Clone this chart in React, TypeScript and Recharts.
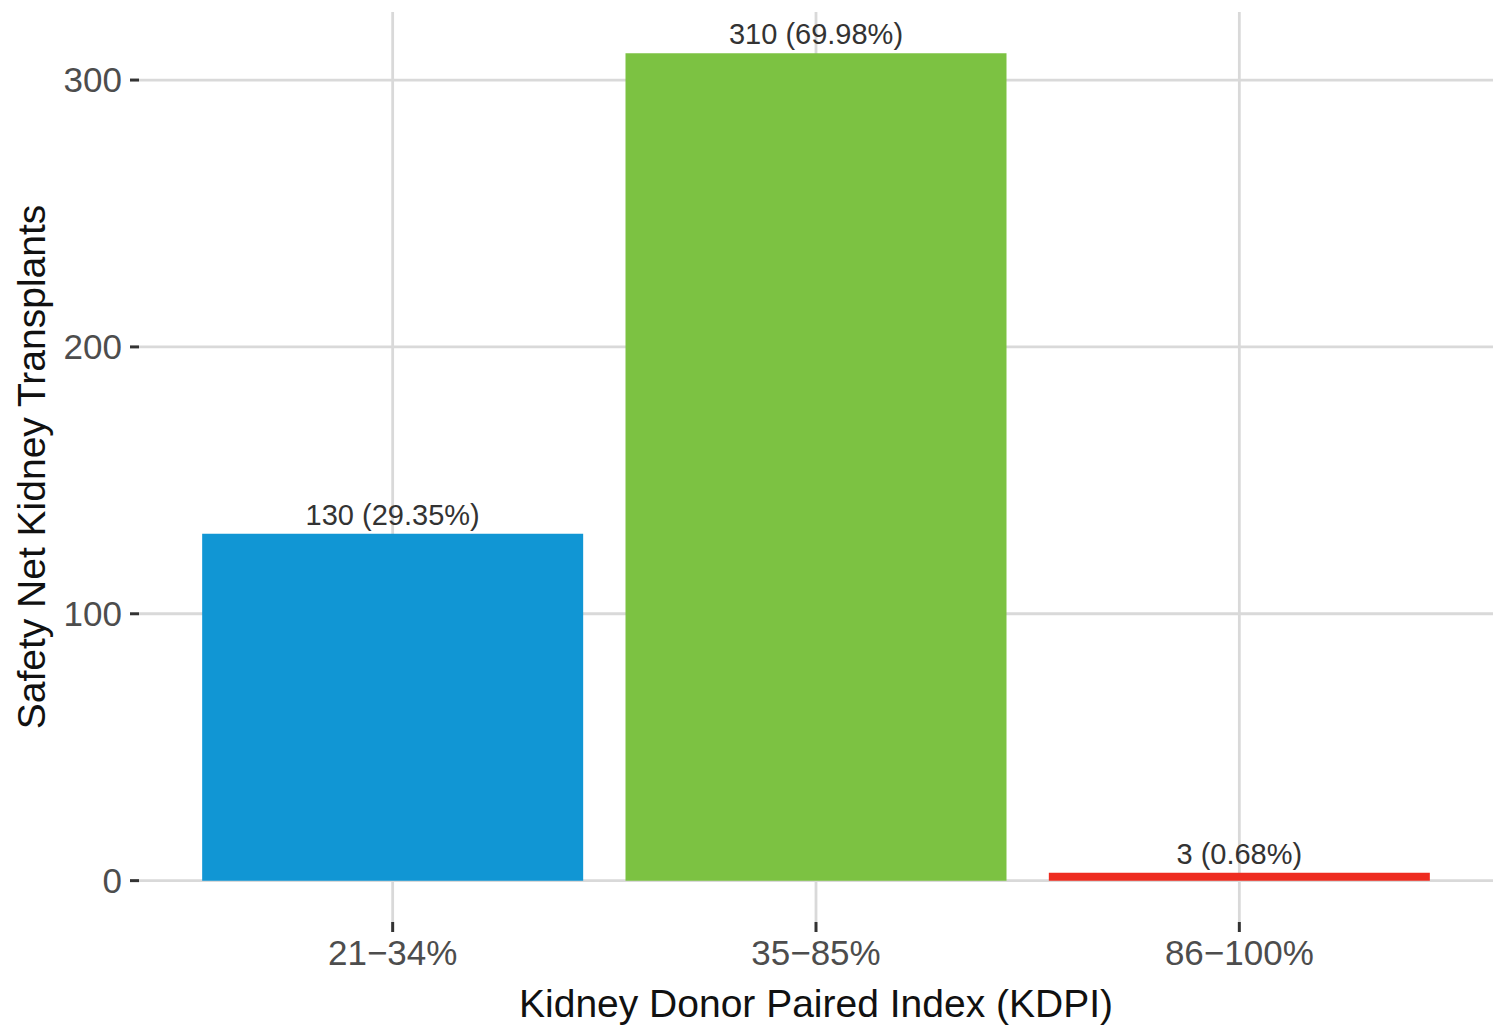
import { BarChart, Bar, XAxis, YAxis, CartesianGrid, Cell, LabelList, Label } from "recharts";

const categories = ["21−34%", "35−85%", "86−100%"];
const counts = [130, 310, 3];
const percents = [29.35, 69.98, 0.68];
const barColors = ["#1196d4", "#7cc242", "#ee2c20"];
const yTicks = [0, 100, 200, 300];

const data = categories.map((kdpi, i) => ({
  kdpi,
  count: counts[i],
  label: `${counts[i]} (${percents[i].toFixed(2)}%)`,
}));

const FONT = "'Liberation Sans', Arial, sans-serif";

function BarLabel(props: any) {
  const { x, y, width, index } = props;
  return (
    <text
      x={x + width / 2}
      y={y - 9}
      textAnchor="middle"
      fontSize={29}
      fontFamily={FONT}
      fill="#333333"
    >
      {data[index].label}
    </text>
  );
}

function YTitle(props: any) {
  const { viewBox } = props;
  const cx = 45;
  const cy = viewBox.y + viewBox.height / 2;
  return (
    <text
      x={cx}
      y={cy}
      transform={`rotate(-90 ${cx} ${cy})`}
      textAnchor="middle"
      fontSize={39}
      fontFamily={FONT}
      fill="#111111"
    >
      Safety Net Kidney Transplants
    </text>
  );
}

function XTitle(props: any) {
  const { viewBox } = props;
  return (
    <text
      x={viewBox.x + viewBox.width / 2}
      y={1017}
      textAnchor="middle"
      fontSize={39}
      fontFamily={FONT}
      fill="#111111"
    >
      Kidney Donor Paired Index (KDPI)
    </text>
  );
}

export default function App() {
  return (
    <div style={{ position: "absolute", left: 0, top: 0, background: "#fff" }}>
      <BarChart
        width={1506}
        height={1028}
        data={data}
        margin={{ top: 12, right: 13, bottom: 0, left: 0 }}
        barCategoryGap="5%"
      >
        {/* syncWithTicks: grid only at the ticks, no border round the panel */}
        <CartesianGrid stroke="#d9d9d9" strokeWidth={2.8} syncWithTicks />
        <XAxis
          dataKey="kdpi"
          height={106}
          padding={{ left: 42, right: 42 }}
          axisLine={false}
          tickSize={10}
          tickMargin={8}
          tickLine={{ stroke: "#333333", strokeWidth: 3 }}
          tick={{ fill: "#4d4d4d", fontSize: 35, fontFamily: FONT }}
        >
          <Label content={<XTitle />} />
        </XAxis>
        <YAxis
          type="number"
          width={139}
          domain={[-15.5, 325.5]}
          ticks={yTicks}
          allowDataOverflow
          axisLine={false}
          tickSize={9}
          tickMargin={8}
          tickLine={{ stroke: "#333333", strokeWidth: 3 }}
          tick={{ fill: "#4d4d4d", fontSize: 35, fontFamily: FONT }}
        >
          <Label content={<YTitle />} />
        </YAxis>
        <Bar dataKey="count" isAnimationActive={false}>
          {data.map((d, i) => (
            <Cell key={d.kdpi} fill={barColors[i]} />
          ))}
          <LabelList dataKey="label" content={<BarLabel />} />
        </Bar>
      </BarChart>
    </div>
  );
}
